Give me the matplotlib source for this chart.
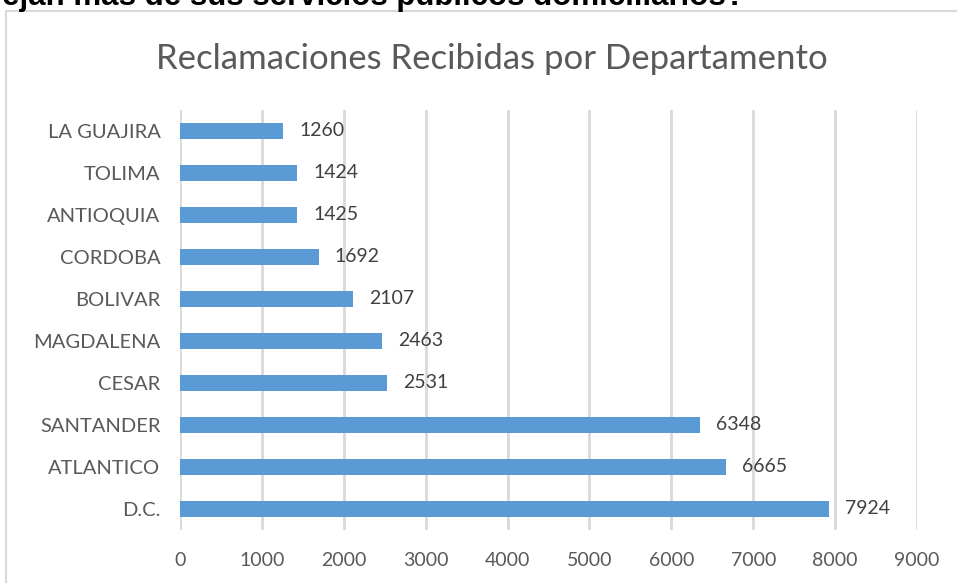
import matplotlib
matplotlib.use("Agg")
import matplotlib.pyplot as plt
from matplotlib.patches import Rectangle

departamentos = ["D.C.", "ATLANTICO", "SANTANDER", "CESAR", "MAGDALENA",
                 "BOLIVAR", "CORDOBA", "ANTIOQUIA", "TOLIMA", "LA GUAJIRA"]
reclamaciones = [7924, 6665, 6348, 2531, 2463, 2107, 1692, 1425, 1424, 1260]
xticks = [0, 1000, 2000, 3000, 4000, 5000, 6000, 7000, 8000, 9000]

plt.rcParams['font.family'] = ['Lato', 'DejaVu Sans']

fig = plt.figure(figsize=(9.57, 5.83), dpi=100)
W, H = 957, 583

# chart frame (extends past right/bottom edge)
fig.patches.append(Rectangle((6 / W, -0.1), 1.2, 1 - 11 / H + 0.1,
                             transform=fig.transFigure, fill=False,
                             edgecolor='#d9d9d9', linewidth=1.5))

# cut-off question line at the top
fig.text(-36 / W, 1 - 5 / H, "quejan más de sus servicios públicos domiciliarios?",
         fontsize=22.5, fontweight='bold', family='Liberation Sans',
         ha='left', va='baseline', color='black')

ax = fig.add_axes([180 / W, 1 - 530 / H, (917 - 180) / W, 420 / H])
ypos = list(range(len(departamentos)))
ax.barh(ypos, reclamaciones, height=0.36, color='#5b9bd5', zorder=3)
for y, v in zip(ypos, reclamaciones):
    ax.text(v + 200, y, str(v), va='center', ha='left', fontsize=14,
            color='#404040')

ax.set_xlim(0, 9000)
ax.set_ylim(-0.5, 9.5)
ax.set_xticks(xticks)
ax.set_yticks(ypos)
ax.set_yticklabels(departamentos)
ax.tick_params(axis='both', length=0, labelsize=14, colors='#595959')
ax.tick_params(axis='y', labelsize=14.5)
ax.tick_params(axis='x', pad=16)
ax.tick_params(axis='y', pad=14)
ax.grid(axis='x', color='#d9d9d9', linewidth=2, zorder=0)
for s in ax.spines.values():
    s.set_visible(False)

fig.text(492 / W, 1 - 59 / H, "Reclamaciones Recibidas por Departamento",
         ha='center', va='center', fontsize=25, color='#595959')

fig.savefig("out.png", dpi=100)
